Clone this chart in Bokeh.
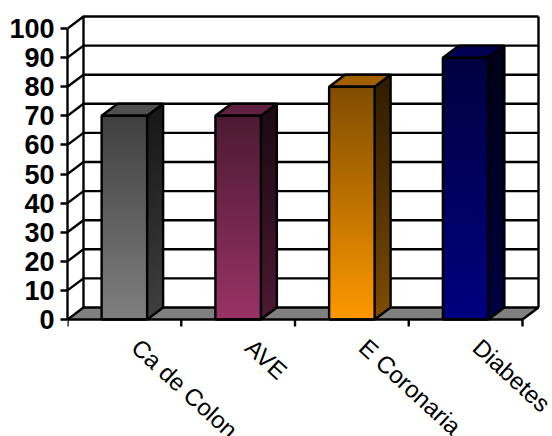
from bokeh.embed import file_html
from bokeh.resources import INLINE
from bokeh.plotting import figure
from bokeh.models import FixedTicker, LinearAxis, Range1d
from bokeh.core.properties import value
import numpy as np

# Disease categories and their values
categories = ["Ca de Colon", "AVE", "E Coronaria", "Diabetes"]
values = [70, 70, 80, 90]
y_ticks = [0, 10, 20, 30, 40, 50, 60, 70, 80, 90, 100]

# Front-face colours at the foot and at the head of each bar
bottom_rgb = [(128, 128, 128), (153, 51, 102), (255, 153, 0), (0, 0, 128)]
top_rgb = [(64, 64, 64), (77, 26, 51), (128, 77, 0), (0, 0, 64)]

# Oblique projection: how far the back of the box sits from the front plane
DEPTH_X = 0.1406
DEPTH_Y = 4.12
BAR_LEFT = 0.30
BAR_WIDTH = 0.40
N_SHADES = 60
LINE_W = 2.4
TICK_LEN = 2.4


def shade(c_bot, c_top, t, factor=1.0):
    rgb = [min(255, int(round((b + (a - b) * t) * factor))) for b, a in zip(c_bot, c_top)]
    return "#%02x%02x%02x" % tuple(rgb)


# The frame fills the window below the value axis so the slanted names can run off the edge
p = figure(width=552, height=436, output_backend="svg", toolbar_location=None,
           x_range=Range1d(0, 485 / 113.75), y_range=Range1d(-117 / 2.91, 319 / 2.91),
           min_border_left=67, min_border_right=0, min_border_top=0, min_border_bottom=0,
           x_axis_type=None, y_axis_type=None, outline_line_color=None)
p.grid.visible = False

n = len(categories)

# Floor
p.patch([0, n, n + DEPTH_X, DEPTH_X], [0, 0, DEPTH_Y, DEPTH_Y],
        fill_color="#808080", line_color="#808080", line_width=1)

# Back wall grid and its slanted returns on the left wall
for t in y_ticks:
    p.line([0, DEPTH_X, n + DEPTH_X], [t, t + DEPTH_Y, t + DEPTH_Y], line_color="black", line_width=LINE_W)
p.line([DEPTH_X, DEPTH_X], [DEPTH_Y, 100 + DEPTH_Y], line_color="black", line_width=LINE_W)
p.line([n + DEPTH_X, n + DEPTH_X], [DEPTH_Y, 100 + DEPTH_Y], line_color="black", line_width=LINE_W)
p.line([n, n + DEPTH_X], [0, DEPTH_Y], line_color="black", line_width=LINE_W)

# Bars: each face is painted tallest strip first, so shorter strips overlay it
for i, (v, cb, ct) in enumerate(zip(values, bottom_rgb, top_rgb)):
    x0 = i + BAR_LEFT
    x1 = x0 + BAR_WIDTH
    edges = np.linspace(v, 0, N_SHADES, endpoint=False)
    front_cols = [shade(cb, ct, e / v) for e in edges]
    side_cols = [shade(cb, ct, e / v, 0.5 - 0.12 * e / v) for e in edges]
    p.quad(left=x0, right=x1, bottom=0, top=edges, fill_color=front_cols, line_color=None)
    side_xs = [[x1, x1 + DEPTH_X, x1 + DEPTH_X, x1] for _ in edges]
    side_ys = [[0, DEPTH_Y, e + DEPTH_Y, e] for e in edges]
    p.patches(side_xs, side_ys, fill_color=side_cols, line_color=None)
    top_col = shade(cb, ct, 1.0, 1.25)
    p.patch([x0, x1, x1 + DEPTH_X, x0 + DEPTH_X], [v, v, v + DEPTH_Y, v + DEPTH_Y],
            fill_color=top_col, line_color="black", line_width=LINE_W)
    p.line([x0, x0, x1, x1, x0], [0, v, v, 0, 0], line_color="black", line_width=LINE_W)
    p.line([x1, x1 + DEPTH_X, x1 + DEPTH_X], [0, DEPTH_Y, v + DEPTH_Y], line_color="black", line_width=LINE_W)

# Value axis on the front plane
y_axis = LinearAxis(bounds=(0, 100), ticker=FixedTicker(ticks=y_ticks),
                    axis_line_width=LINE_W, axis_line_color="black",
                    major_tick_line_width=LINE_W, major_tick_line_color="black",
                    major_tick_in=0, major_tick_out=7,
                    minor_tick_line_color=None, major_label_standoff=6,
                    major_label_text_font="Liberation Sans", major_label_text_font_style="bold",
                    major_label_text_font_size="27px", major_label_text_color="black")
p.add_layout(y_axis, "left")

# Category axis: baseline, ticks between the categories, slanted names
p.line([0, n], [0, 0], line_color="black", line_width=LINE_W)
tick_x = list(range(n + 1))
p.segment(x0=tick_x, y0=[0] * (n + 1), x1=tick_x, y1=[-TICK_LEN] * (n + 1),
          line_color="black", line_width=LINE_W)
p.text(x=[i + 0.5 for i in range(n)], y=[0] * n, text=categories, angle=-0.74,
       x_offset=11, y_offset=24, text_align="left", text_baseline="middle",
       text_font=value("Liberation Sans"), text_font_size="24px", text_color="black")

open("out.html", "w").write(file_html(p, INLINE))
